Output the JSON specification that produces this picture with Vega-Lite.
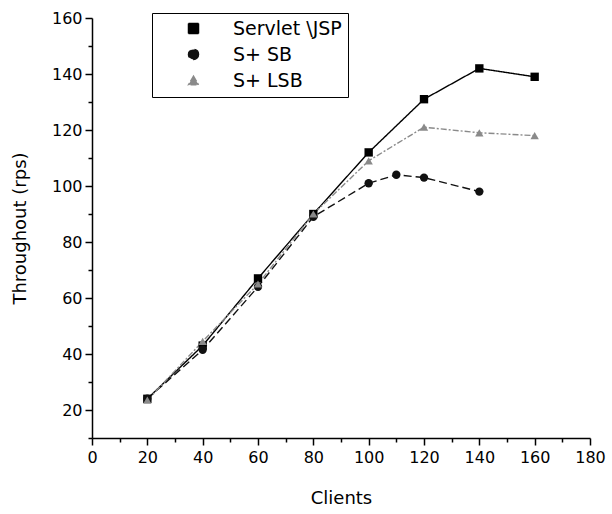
{
  "$schema": "https://vega.github.io/schema/vega-lite/v6.json",
  "width": 498,
  "height": 420,
  "autosize": "none",
  "padding": {"left": 92, "top": 18, "right": 22, "bottom": 76},
  "background": "white",
  "config": {
    "font": "DejaVu Sans",
    "view": {"stroke": null},
    "axis": {
      "domainColor": "black",
      "domainWidth": 1.5,
      "tickColor": "black",
      "tickWidth": 1.5,
      "labelColor": "black",
      "titleColor": "black",
      "labelFontSize": 16,
      "titleFontSize": 18,
      "titleFontWeight": "normal",
      "grid": false
    }
  },
  "data": {
    "values": [
      {"series": "Servlet \\JSP", "clients": 20, "rps": 24},
      {"series": "Servlet \\JSP", "clients": 40, "rps": 43},
      {"series": "Servlet \\JSP", "clients": 60, "rps": 67},
      {"series": "Servlet \\JSP", "clients": 80, "rps": 90},
      {"series": "Servlet \\JSP", "clients": 100, "rps": 112},
      {"series": "Servlet \\JSP", "clients": 120, "rps": 131},
      {"series": "Servlet \\JSP", "clients": 140, "rps": 142},
      {"series": "Servlet \\JSP", "clients": 160, "rps": 139},
      {"series": "S+ SB", "clients": 20, "rps": 24},
      {"series": "S+ SB", "clients": 40, "rps": 41.5},
      {"series": "S+ SB", "clients": 60, "rps": 64},
      {"series": "S+ SB", "clients": 80, "rps": 89},
      {"series": "S+ SB", "clients": 100, "rps": 101},
      {"series": "S+ SB", "clients": 110, "rps": 104},
      {"series": "S+ SB", "clients": 120, "rps": 103},
      {"series": "S+ SB", "clients": 140, "rps": 98},
      {"series": "S+ LSB", "clients": 20, "rps": 23.5},
      {"series": "S+ LSB", "clients": 40, "rps": 44.5},
      {"series": "S+ LSB", "clients": 60, "rps": 65},
      {"series": "S+ LSB", "clients": 80, "rps": 90},
      {"series": "S+ LSB", "clients": 100, "rps": 109},
      {"series": "S+ LSB", "clients": 120, "rps": 121},
      {"series": "S+ LSB", "clients": 140, "rps": 119},
      {"series": "S+ LSB", "clients": 160, "rps": 118}
    ]
  },
  "encoding": {
    "x": {
      "field": "clients", "type": "quantitative",
      "scale": {"domain": [0, 180], "nice": false, "zero": false},
      "axis": {
        "title": "Clients",
        "values": [0,10,20,30,40,50,60,70,80,90,100,110,120,130,140,150,160,170,180],
        "labelExpr": "datum.value % 20 === 0 ? datum.label : ''",
        "tickSize": {"condition": {"test": "datum.value % 20 === 0", "value": 7}, "value": 4},
        "labelPadding": 4,
        "titlePadding": 24,
        "labelFlush": false
      }
    },
    "y": {
      "field": "rps", "type": "quantitative",
      "scale": {"domain": [10, 160], "nice": false, "zero": false},
      "axis": {
        "title": "Throughout (rps)",
        "values": [10,20,30,40,50,60,70,80,90,100,110,120,130,140,150,160],
        "labelExpr": "datum.value % 20 === 0 ? datum.label : ''",
        "tickSize": {"condition": {"test": "datum.value % 20 === 0", "value": 7}, "value": 4},
        "labelPadding": 3,
        "titlePadding": 22,
        "labelFlush": false
      }
    }
  },
  "layer": [
    {
      "mark": {"type": "line", "strokeWidth": 1.4},
      "encoding": {
        "color": {
          "field": "series", "type": "nominal",
          "scale": {"domain": ["Servlet \\JSP", "S+ SB", "S+ LSB"], "range": ["#000000", "#111111", "#8a8a8a"]},
          "legend": {
            "title": null,
            "orient": "none",
            "legendX": 60,
            "legendY": -5,
            "strokeColor": "black",
            "padding": 6,
            "labelFontSize": 19,
            "labelColor": "black",
            "symbolSize": 100,
            "symbolStrokeWidth": 1.5,
            "symbolOffset": 26,
            "rowPadding": 6,
            "labelOffset": 30,
            "fillColor": "white"
          }
        },
        "strokeDash": {
          "field": "series", "type": "nominal",
          "scale": {"domain": ["Servlet \\JSP", "S+ SB", "S+ LSB"], "range": [[1, 0], [8, 4], [6, 2, 2, 2]]},
          "legend": null
        }
      }
    },
    {
      "mark": {"type": "point", "filled": true, "size": 70, "opacity": 1},
      "encoding": {
        "color": {"field": "series", "type": "nominal", "legend": null},
        "shape": {
          "field": "series", "type": "nominal",
          "scale": {"domain": ["Servlet \\JSP", "S+ SB", "S+ LSB"], "range": ["square", "circle", "triangle-up"]},
          "legend": null
        }
      }
    }
  ]
}
